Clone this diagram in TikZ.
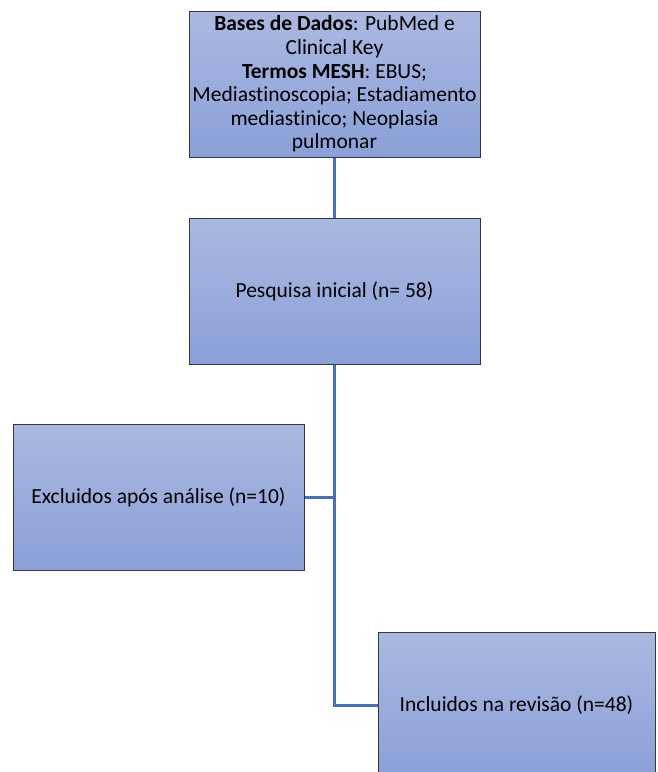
\documentclass[tikz,border=0pt]{standalone}
\usepackage{fontspec}
\setmainfont{Carlito}[Ligatures={NoCommon}]
\usetikzlibrary{shadings}
\definecolor{boxtop}{RGB}{171,185,225}
\definecolor{boxbot}{RGB}{138,160,216}
\definecolor{boxline}{RGB}{50,56,68}
\definecolor{conn}{RGB}{68,110,190}
\begin{document}
\begin{tikzpicture}[x=1pt,y=-1pt,
  flowbox/.style={draw=boxline, line width=1pt, top color=boxtop, bottom color=boxbot,
    minimum width=291pt, minimum height=146pt, inner sep=0pt, align=center,
    font=\fontsize{21.5}{23.6}\selectfont, text=black},
  conline/.style={draw=conn, line width=3pt}]
\useasboundingbox (0,0) rectangle (657,772);
\begin{scope}
\clip (0,0) rectangle (657,772);
\node[flowbox] (db) at (334.5,84) {\textbf{Bases de Dados}: PubMed e\\Clinical Key\\\textbf{Termos MESH}: EBUS;\\Mediastinoscopia; Estadiamento\\mediastinico; Neoplasia\\pulmonar};
\node[flowbox] (ini) at (334.5,291) {Pesquisa inicial (n= 58)};
\node[flowbox] (exc) at (158.5,497) {Excluidos após análise (n=10)};
\node[flowbox, minimum width=277pt] (inc) at (516.5,705) {Incluidos na revisão (n=48)};
\draw[conline] (db.south) -- (ini.north);
\draw[conline] (ini.south) |- (inc.west);
\draw[conline] (exc.east) -- (exc.east -| ini.south);
\end{scope}
\end{tikzpicture}
\end{document}
